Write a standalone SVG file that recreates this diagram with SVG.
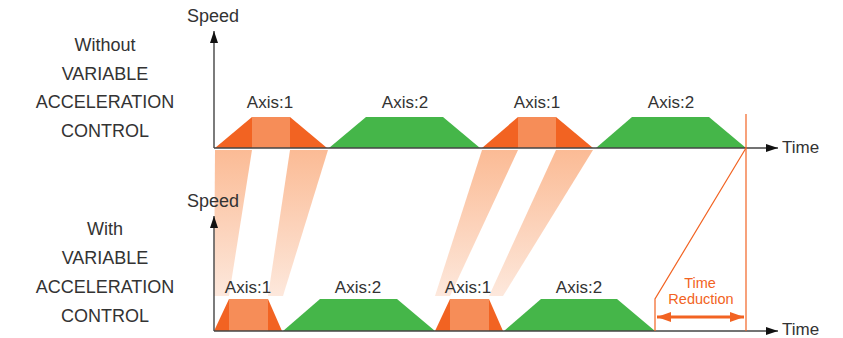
<svg xmlns="http://www.w3.org/2000/svg" width="843" height="338" viewBox="0 0 843 338">
  <defs>
    <style>
      .lbl { font-family: "Liberation Sans", Arial, sans-serif; fill: #333; }
      .side { font-size: 18px; text-anchor: middle; }
      .axt { font-size: 17px; }
      .spd { font-size: 18px; }
      .axis-name { font-size: 17px; text-anchor: middle; }
      .dark { fill: #f26322; }
      .light { fill: #f68d58; }
      .green { fill: #45b649; }
      .band { fill: url(#bandFade); }
      .axline { stroke: #444; stroke-width: 1.4; fill: none; }
      .orange-line { stroke: #f26322; stroke-width: 1.2; fill: none; }
      .red-text { font-family: "Liberation Sans", Arial, sans-serif; font-size: 14.5px; fill: #f26322; text-anchor: middle; }
    </style>
    <linearGradient id="bandFade" gradientUnits="userSpaceOnUse" x1="0" y1="150" x2="0" y2="296">
      <stop offset="0" stop-color="#fbbb95"/>
      <stop offset="1" stop-color="#fde8dc"/>
    </linearGradient>
    <marker id="arrowHead" viewBox="0 0 12 8" refX="12" refY="4" markerWidth="12" markerHeight="8" markerUnits="userSpaceOnUse" orient="auto">
      <path d="M0,0 L12,4 L0,8 Z" fill="#111"/>
    </marker>
    <marker id="redHead" viewBox="0 0 14 10" refX="14" refY="5" markerWidth="14" markerHeight="10" markerUnits="userSpaceOnUse" orient="auto-start-reverse">
      <path d="M0,0 L14,5 L0,10 Z" fill="#f26322"/>
    </marker>
  </defs>

  <rect width="843" height="338" fill="#fff"/>

  <!-- side captions -->
  <g id="caption-without" class="lbl side">
    <text x="105" y="51">Without</text>
    <text x="105" y="80">VARIABLE</text>
    <text x="105" y="108">ACCELERATION</text>
    <text x="105" y="137">CONTROL</text>
  </g>
  <g id="caption-with" class="lbl side">
    <text x="105" y="235">With</text>
    <text x="105" y="264">VARIABLE</text>
    <text x="105" y="293">ACCELERATION</text>
    <text x="105" y="322">CONTROL</text>
  </g>

  <!-- projection bands linking the two acceleration profiles -->
  <g id="bands">
    <polygon class="band" points="215,150 252,150 229,296 214,296"/>
    <polygon class="band" points="290,150 328,150 283,296 268,296"/>
    <polygon class="band" points="482,150 518,150 450,296 435,296"/>
    <polygon class="band" points="556,150 593,150 503,296 489,296"/>
  </g>

  <!-- upper profile: fixed acceleration -->
  <g id="top-axis1-a">
    <polygon class="dark" points="215,148 252,117 252,148"/>
    <rect class="light" x="252" y="117" width="38" height="31"/>
    <polygon class="dark" points="290,117 327,148 290,148"/>
    <text class="lbl axis-name" x="270" y="108">Axis:1</text>
  </g>
  <g id="top-axis2-a">
    <polygon class="green" points="329,148 366,117 443,117 480,148"/>
    <text class="lbl axis-name" x="405" y="108">Axis:2</text>
  </g>
  <g id="top-axis1-b">
    <polygon class="dark" points="482,148 518,117 518,148"/>
    <rect class="light" x="518" y="117" width="38" height="31"/>
    <polygon class="dark" points="556,117 593,148 556,148"/>
    <text class="lbl axis-name" x="537" y="108">Axis:1</text>
  </g>
  <g id="top-axis2-b">
    <polygon class="green" points="596,148 632,117 709,117 746,148"/>
    <text class="lbl axis-name" x="671" y="108">Axis:2</text>
  </g>

  <!-- lower profile: variable acceleration -->
  <g id="bot-axis1-a">
    <polygon class="dark" points="214,331 229,299 229,331"/>
    <rect class="light" x="229" y="299" width="39" height="32"/>
    <polygon class="dark" points="268,299 282,331 268,331"/>
    <text class="lbl axis-name" x="248" y="293">Axis:1</text>
  </g>
  <g id="bot-axis2-a">
    <polygon class="green" points="283,331 320,299 397,299 435,331"/>
    <text class="lbl axis-name" x="358" y="293">Axis:2</text>
  </g>
  <g id="bot-axis1-b">
    <polygon class="dark" points="435,331 450,299 450,331"/>
    <rect class="light" x="450" y="299" width="39" height="32"/>
    <polygon class="dark" points="489,299 503,331 489,331"/>
    <text class="lbl axis-name" x="468" y="293">Axis:1</text>
  </g>
  <g id="bot-axis2-b">
    <polygon class="green" points="504,331 541,299 617,299 655,331"/>
    <text class="lbl axis-name" x="579" y="293">Axis:2</text>
  </g>

  <!-- axes -->
  <g id="connectors">
    <line class="axline" x1="214" y1="148" x2="214" y2="31" marker-end="url(#arrowHead)"/>
    <line class="axline" x1="214" y1="148" x2="778" y2="148" marker-end="url(#arrowHead)"/>
    <line class="axline" x1="214" y1="331" x2="214" y2="216" marker-end="url(#arrowHead)"/>
    <line class="axline" x1="214" y1="331" x2="778" y2="331" marker-end="url(#arrowHead)"/>
    <!-- time reduction markers -->
    <line class="orange-line" x1="746" y1="114" x2="746" y2="331"/>
    <polyline class="orange-line" points="746,148 655,299 655,331"/>
    <line x1="657" y1="317" x2="744" y2="317" stroke="#f26322" stroke-width="3" marker-start="url(#redHead)" marker-end="url(#redHead)"/>
  </g>

  <g id="axis-labels" class="lbl axt">
    <text class="spd" x="187" y="22">Speed</text>
    <text class="spd" x="187" y="207">Speed</text>
    <text x="782" y="153">Time</text>
    <text x="782" y="335">Time</text>
  </g>

  <g id="time-reduction">
    <text class="red-text" x="700" y="288">Time</text>
    <text class="red-text" x="701" y="304">Reduction</text>
  </g>
</svg>
